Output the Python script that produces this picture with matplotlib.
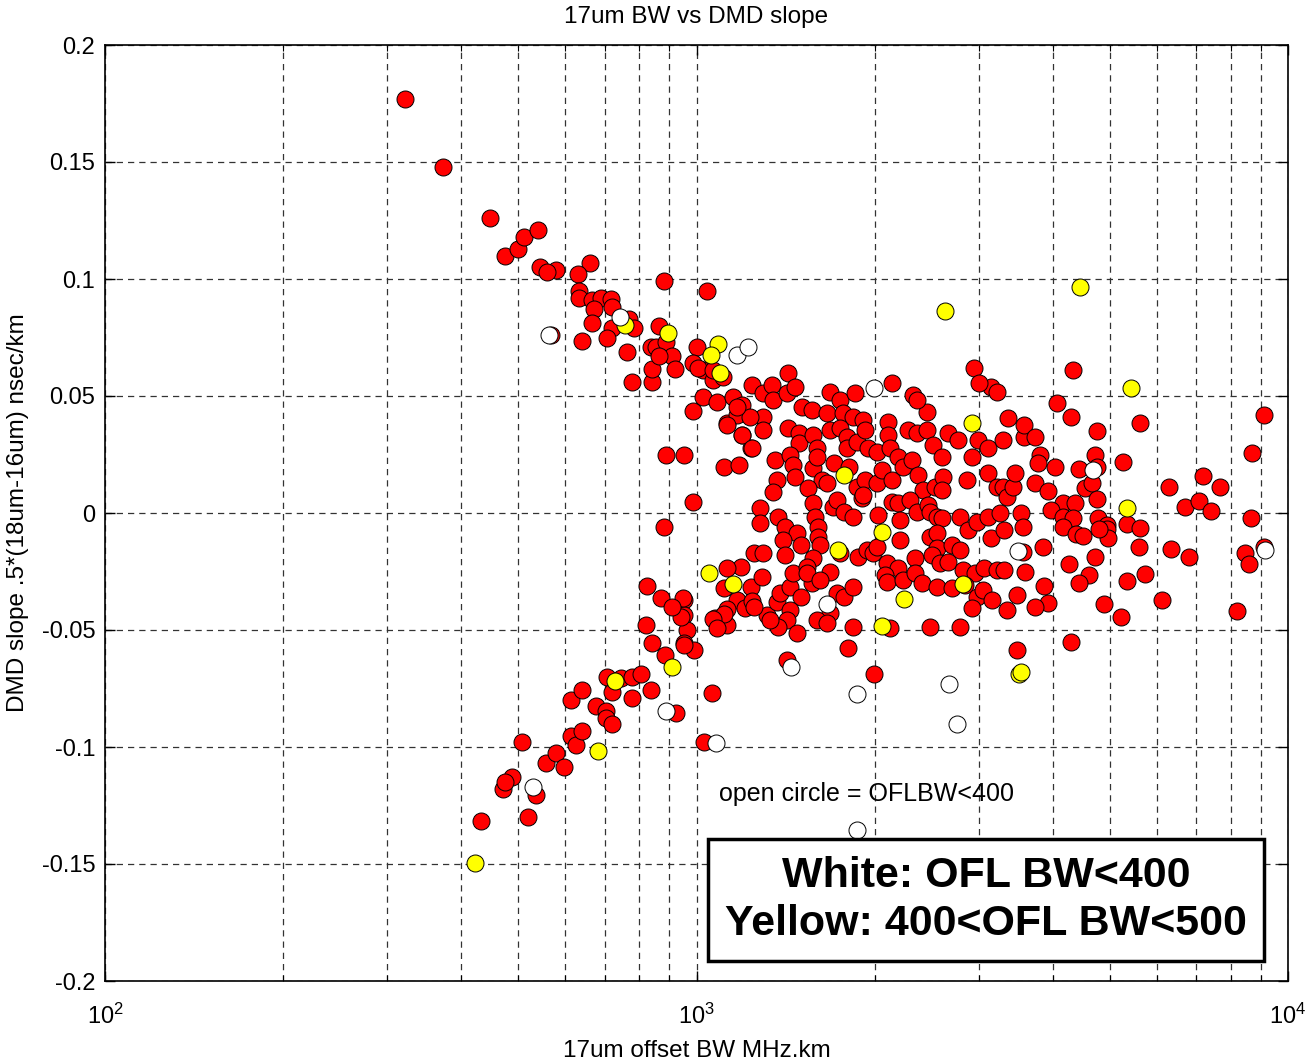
import matplotlib
matplotlib.use("Agg")
import matplotlib.pyplot as plt
from matplotlib.ticker import FixedLocator, NullFormatter, LogLocator

plt.rcParams['font.family'] = ['Liberation Sans', 'DejaVu Sans']
plt.rcParams['mathtext.fontset'] = 'custom'
plt.rcParams['mathtext.rm'] = 'Liberation Sans'
plt.rcParams['mathtext.it'] = 'Liberation Sans:italic'
plt.rcParams['mathtext.bf'] = 'Liberation Sans:bold'

# ---------------- data (17um offset BW in MHz.km, DMD slope in nsec/km) ----------------
# red: upper-left branch
red_upper_bw = [
    321, 373, 448, 474, 500, 511, 540, 544, 579, 559, 661, 631, 633, 633, 666, 690, 718, 670, 720, 666,
    770, 785, 720, 707, 641, 568, 764, 779, 841, 841, 838, 865, 880, 1040, 855, 889, 910, 918, 865, 985,
    1024, 1000, 985, 1024, 1065, 1081, 1004, 1065, 1107, 1426, 1124, 954, 1115, 985, 2942,
]
red_upper_slope = [
    0.177, 0.148, 0.126, 0.110, 0.113, 0.118, 0.121, 0.105, 0.104, 0.103, 0.107, 0.102, 0.095, 0.092, 0.091, 0.092, 0.0915, 0.087, 0.088, 0.081,
    0.083, 0.079, 0.079, 0.075, 0.0735, 0.076, 0.069, 0.056, 0.056, 0.0615, 0.071, 0.080, 0.099, 0.095, 0.071, 0.073, 0.067, 0.0615, 0.067, 0.0435,
    0.0495, 0.071, 0.064, 0.061, 0.057, 0.0475, 0.062, 0.061, 0.058, 0.060, 0.0385, 0.025, 0.0195, 0.0047, 0.062,
]

# red: dense central cluster (BW, slope)
red_core = [
    (1151, 0.0496), (1196, 0.0462), (1243, 0.0547), (1293, 0.0513), (1340, 0.0547), (1345, 0.0483),
    (1420, 0.0513), (1465, 0.0538), (1505, 0.0453), (1565, 0.0440), (1659, 0.0427), (1680, 0.0517),
    (1745, 0.0483), (1851, 0.0513), (1766, 0.0427), (1837, 0.0410), (1909, 0.0397), (2138, 0.0556),
    (2320, 0.0504), (2449, 0.0432), (3152, 0.0538), (3217, 0.0517), (3008, 0.0556), (2356, 0.0483),
    (1169, 0.0419), (1196, 0.0333), (1238, 0.0278), (1293, 0.0410), (1293, 0.0355), (1426, 0.0363),
    (1493, 0.0342), (1493, 0.0299), (1571, 0.0333), (1596, 0.0278), (1680, 0.0355), (1745, 0.0363),
    (1794, 0.0325), (1794, 0.0278), (1865, 0.0303), (1924, 0.0355), (1947, 0.0278), (2016, 0.0261),
    (2104, 0.0389), (2104, 0.0333), (2121, 0.0278), (2188, 0.0239), (2275, 0.0355), (2356, 0.0342),
    (2449, 0.0355), (2507, 0.0291), (2597, 0.0239), (2659, 0.0342), (2764, 0.0312), (2918, 0.0239),
    (2988, 0.0312), (3106, 0.0278), (3294, 0.0312), (3358, 0.0406), (3580, 0.0325), (3580, 0.0376),
    (1182, 0.0205), (1355, 0.0226), (1437, 0.0248), (1454, 0.0205), (1571, 0.0192), (1596, 0.0239),
    (1627, 0.0141), (1665, 0.0128), (1465, 0.0154), (1366, 0.0141), (1345, 0.0090), (1541, 0.0107),
    (1711, 0.0214), (1809, 0.0197), (1865, 0.0111), (1924, 0.0141), (2016, 0.0128), (2057, 0.0184),
    (2138, 0.0141), (2231, 0.0197), (2311, 0.0226), (2366, 0.0162), (2411, 0.0098), (2527, 0.0111),
    (2608, 0.0154), (2597, 0.0098), (2862, 0.0141), (3106, 0.0171), (3217, 0.0111), (3294, 0.0111),
    (3345, 0.0068), (3425, 0.0111), (3452, 0.0171),
    (1278, 0.0021), (1371, -0.0017), (1278, -0.0043), (1409, -0.0060), (1476, -0.0085), (1571, 0.0043),
    (1584, -0.0017), (1602, -0.0060), (1704, 0.0026), (1725, 0.0056), (1776, 0.0004), (1837, -0.0017),
    (1902, 0.0064), (1909, 0.0077), (2024, -0.0009), (2138, 0.0047), (2188, 0.0043), (2205, -0.0030),
    (2293, 0.0056), (2356, 0.0004), (2459, 0.0034), (2478, 0.0004), (2547, -0.0017), (2597, -0.0021),
    (2786, -0.0017), (2873, -0.0073), (2976, -0.0038), (3106, -0.0017), (3152, -0.0107), (3257, 0.0),
    (3313, -0.0073), (3530, 0.0), (3563, -0.0060),
    (1191, -0.0231), (1253, -0.0171), (1293, -0.0171), (1398, -0.0115), (1409, -0.0179), (1504, -0.0137),
    (1602, -0.0103), (1616, -0.0137), (1571, -0.0192), (1680, -0.0252), (1872, -0.0188), (1939, -0.0158),
    (1985, -0.0171), (2016, -0.0145), (2096, -0.0214), (2205, -0.0115), (2188, -0.0235), (2339, -0.0192),
    (2478, -0.0103), (2547, -0.0085), (2547, -0.0150), (2497, -0.0179), (2577, -0.0214), (2700, -0.0137),
    (2786, -0.0158), (2659, -0.0209), (2820, -0.0244), (2953, -0.0256), (3068, -0.0235), (3217, -0.0244),
    (3313, -0.0244), (3587, -0.0252),
    (1173, -0.0372), (1206, -0.0406), (1238, -0.0316), (1288, -0.0274), (1318, -0.0436), (1366, -0.0380),
    (1383, -0.0342), (1437, -0.0316), (1454, -0.0256), (1535, -0.0231), (1565, -0.0299), (1504, -0.0359),
    (1535, -0.0256), (1616, -0.0286), (1725, -0.0342), (1776, -0.0359), (1837, -0.0316), (1680, -0.0427),
    (1437, -0.0415), (1420, -0.0457), (1371, -0.0487), (1330, -0.0457), (1481, -0.0513), (1596, -0.0457),
    (1659, -0.0470), (1837, -0.0487), (2080, -0.0265), (2096, -0.0295), (2231, -0.0286), (2339, -0.0256),
    (2402, -0.0299), (2547, -0.0316), (2700, -0.0321), (2841, -0.0308), (2976, -0.0359), (3048, -0.0329),
    (3164, -0.0372), (3345, -0.0415), (3478, -0.0350), (2918, -0.0406), (2478, -0.0487), (2786, -0.0487),
    (3563, -0.0167), (2121, -0.0491), (1745, -0.0171),
    (1124, 0.0376), (1196, 0.0333), (1242, 0.0278), (1230, 0.0410), (1169, 0.0453),
    (1243, -0.0376), (1253, -0.0400), (1124, -0.0410),
]

# red: right-hand spread
red_right_bw = [
    4325, 4063, 4290, 4748, 5613, 9097, 8681, 3728, 3813, 3774, 4032, 4440, 4712, 4748, 5260, 3729, 3924, 4530,
    4658, 4748, 4160, 4358, 3968, 4160, 4325, 4767, 4937, 4937, 4957, 5336, 5613, 5590, 6284, 6688, 7063, 7180,
    7689, 7400, 8646, 6333, 6793, 8444, 8579, 8187, 6112, 5219, 4880, 5723, 5336, 4712, 4603, 4426, 4257, 3924,
    3728, 3862, 3846, 4160, 4375, 4496, 4786, 4290, 3478, 9097,
]
red_right_slope = [
    0.061, 0.047, 0.041, 0.035, 0.0385, 0.042, 0.0255, 0.0325, 0.025, 0.0215, 0.0195, 0.019, 0.025, 0.0195, 0.022, 0.013, 0.0095, 0.0105,
    0.013, 0.006, 0.0043, 0.0043, 0.0013, -0.0017, -0.002, -0.002, -0.005, -0.007, -0.0105, -0.0045, -0.0065, -0.0145, 0.011, 0.0025, 0.005, 0.016,
    0.011, 0.001, -0.002, -0.0155, -0.019, -0.017, -0.022, -0.042, -0.037, -0.0445, -0.039, -0.026, -0.029, -0.019, -0.0265, -0.030, -0.022, -0.0385,
    -0.040, -0.031, -0.0145, -0.006, -0.009, -0.010, -0.007, -0.055, -0.0585, -0.0145,
]

# red: lower-left branch
red_lower_bw = [
    1124, 1115, 1073, 1124, 1115, 1801, 1993, 1061, 954, 954, 962, 954, 992, 1420,
    433, 518, 536, 471, 488, 474, 507, 557, 579, 597, 614, 626, 641, 614, 641, 677, 704, 704, 720, 707,
    720, 744, 779, 807, 779, 838, 925, 823, 841, 883, 954, 943, 947, 872, 910, 826, 1065, 1081, 1030, 882, 889,
]
red_lower_slope = [
    -0.0235, -0.032, -0.045, -0.048, -0.043, -0.0575, -0.069, -0.077, -0.037, -0.0435, -0.050, -0.0555, -0.0585, -0.063,
    -0.1315, -0.130, -0.1205, -0.118, -0.113, -0.115, -0.098, -0.107, -0.1025, -0.1085, -0.0955, -0.099, -0.093, -0.080, -0.0755, -0.0825, -0.0845, -0.0875, -0.090, -0.070,
    -0.0765, -0.0705, -0.070, -0.069, -0.079, -0.0755, -0.0855, -0.048, -0.0555, -0.0605, -0.0565, -0.0445, -0.0365, -0.0365, -0.040, -0.031, -0.0455, -0.049, -0.098, -0.006, 0.0248,
]

yellow_bw = [423, 682, 729, 910, 1049, 1151, 1738, 2057, 2240, 2057, 2820, 2920, 2627, 4458, 5430, 5336,
             3506, 3540, 757, 895, 1089, 1058, 1097, 1776]
yellow_slope = [-0.1495, -0.1017, -0.0718, -0.0658, -0.0256, -0.0303, -0.0158, -0.0081, -0.0368, -0.0483,
                -0.0303, 0.0385, 0.0863, 0.0966, 0.0534, 0.0021, -0.0688, -0.068, 0.0803, 0.0769, 0.0722,
                0.0675, 0.0598, 0.0162]

white_bw = [530, 889, 1077, 563, 742, 1169, 1224, 1993, 1659, 1443, 1865, 2669, 2753, 1865, 4676, 3495, 9136]
white_slope = [-0.117, -0.0846, -0.0983, 0.0761, 0.0838, 0.0675, 0.071, 0.0534, -0.0389, -0.0658, -0.0774,
               -0.0731, -0.090, -0.1355, 0.0184, -0.0162, -0.0158]

title_text = "17um BW vs DMD slope"
xlabel_text = "17um offset BW MHz.km"
ylabel_text = "DMD slope .5*(18um-16um) nsec/km"
note_text = "open circle = OFLBW<400"
box_text = "White: OFL BW<400\nYellow: 400<OFL BW<500"
y_ticks = [-0.2, -0.15, -0.1, -0.05, 0, 0.05, 0.1, 0.15, 0.2]
y_ticklabels = ["-0.2", "-0.15", "-0.1", "-0.05", "0", "0.05", "0.1", "0.15", "0.2"]
x_ticks = [100, 1000, 10000]
x_ticklabels = [r"$10^{2}$", r"$10^{3}$", r"$10^{4}$"]

red_bw = red_upper_bw + [p[0] for p in red_core] + red_right_bw + red_lower_bw
red_slope = red_upper_slope + [p[1] for p in red_core] + red_right_slope + red_lower_slope

# ---------------- figure ----------------
fig = plt.figure(figsize=(13.14, 10.62), dpi=100)
ax = fig.add_axes([105 / 1314, 1 - 981 / 1062, (1288 - 105) / 1314, (981 - 45) / 1062])

ms = 150
ew = 0.7
ax.scatter(red_bw, red_slope, s=ms, c='#ff0000', edgecolors='black', linewidths=ew, zorder=3)
ax.scatter(yellow_bw, yellow_slope, s=ms, c='#ffff00', edgecolors='black', linewidths=ew, zorder=4)
ax.scatter(white_bw, white_slope, s=ms, c='white', edgecolors='black', linewidths=ew, zorder=4)

ax.set_xscale('log')
ax.set_xlim(100, 10000)
ax.set_ylim(-0.2, 0.2)
ax.set_yticks(y_ticks)
ax.set_yticklabels(y_ticklabels)
ax.xaxis.set_major_locator(FixedLocator(x_ticks))
ax.set_xticklabels(x_ticklabels)
ax.xaxis.set_minor_locator(LogLocator(base=10, subs=range(2, 10)))
ax.xaxis.set_minor_formatter(NullFormatter())

grid_kw = dict(color='#333333', linestyle=(0, (5, 4)), linewidth=0.9)
ax.grid(True, which='major', axis='both', **grid_kw)
ax.grid(True, which='minor', axis='x', **grid_kw)
ax.set_axisbelow(True)

ax.tick_params(which='both', direction='in', top=True, right=True, labelsize=17, colors='black')
ax.tick_params(which='major', length=7, width=1)
ax.tick_params(which='minor', length=4, width=0.8)
ax.tick_params(axis='x', pad=16)
ax.tick_params(axis='y', pad=7)
for sp in ax.spines.values():
    sp.set_linewidth(1.2)

ax.set_title(title_text, fontsize=17.5, pad=16)
ax.set_xlabel(xlabel_text, fontsize=17.5, labelpad=8)
ax.set_ylabel(ylabel_text, fontsize=17.5)
ax.yaxis.set_label_coords(-0.064, 0.5)

ax.text(0.519, 0.200, note_text, transform=ax.transAxes, fontsize=18,
        ha='left', va='center', zorder=6)
ax.text(0.745, 0.0865, box_text, transform=ax.transAxes, fontsize=31, fontweight='bold',
        ha='center', va='center', linespacing=1.25, zorder=6,
        bbox=dict(boxstyle='square,pad=0.4', facecolor='white', edgecolor='black', linewidth=2.5))

fig.savefig("out.png", dpi=100)
